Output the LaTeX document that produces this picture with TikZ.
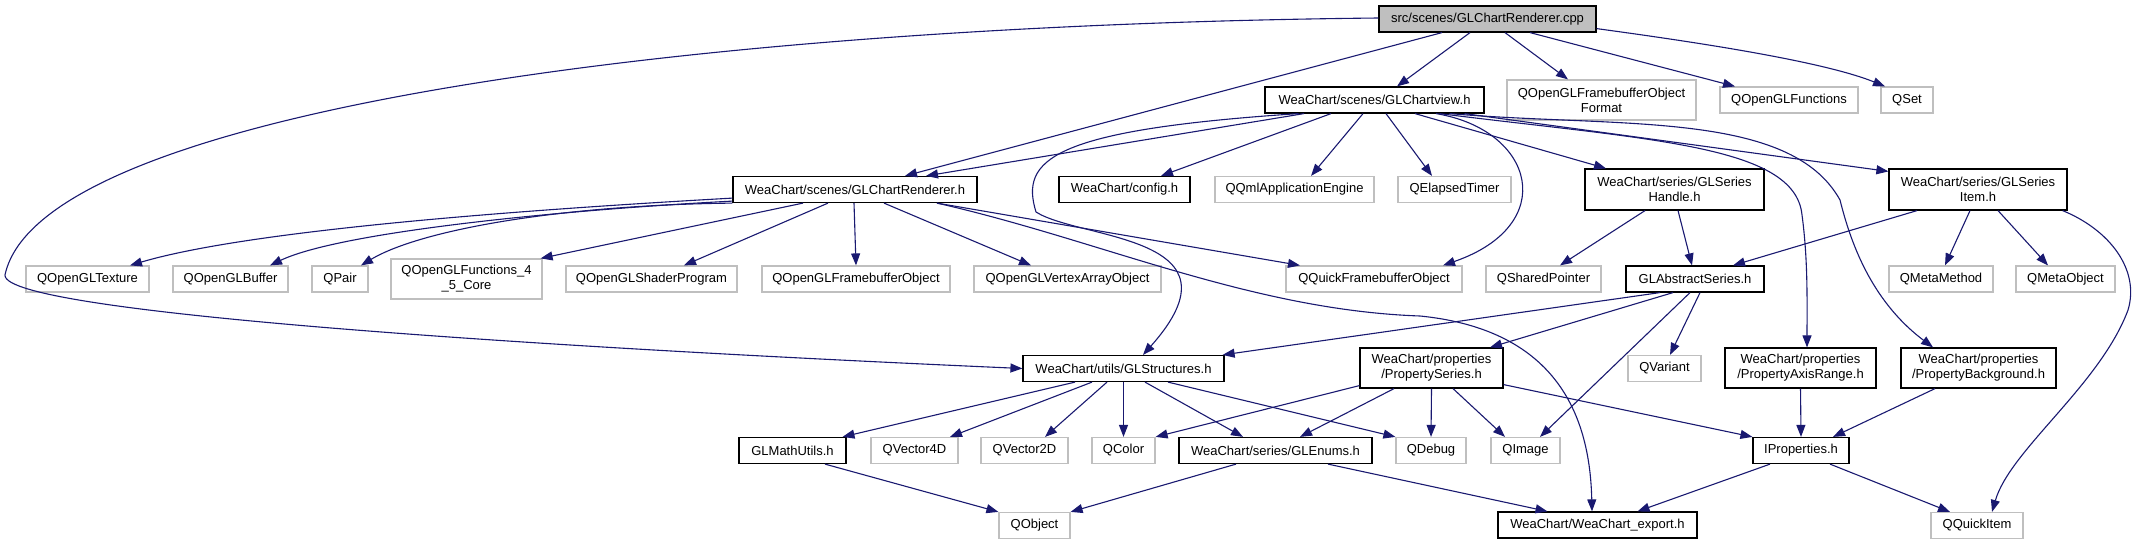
\documentclass[tikz,border=0pt]{standalone}
\usepackage{fontspec}
\setmainfont{Liberation Sans}
\usetikzlibrary{arrows.meta}
\definecolor{edgeblue}{HTML}{191970}
\definecolor{extgray}{HTML}{BFBFBF}

\begin{document}
\begin{tikzpicture}[x=1pt, y=-1pt,
    font=\fontsize{13}{15}\selectfont,
    box/.style={rectangle, inner sep=0pt, minimum height=26pt, align=center, line width=1.2pt},
    docbox/.style={box, draw=black, fill=white},
    extbox/.style={box, draw=extgray, fill=white},
    rootbox/.style={box, draw=black, fill=extgray},
    dep/.style={-{Triangle[length=12pt,width=9pt]}, draw=edgeblue, line width=1.1pt}]
    \useasboundingbox (0,0) rectangle (2140,544);

    % Top rows
    \node[rootbox, minimum width=217pt] (cpp) at (1487.5,19) {src/scenes/GLChartRenderer.cpp};
    \node[docbox, minimum width=219pt] (chartview) at (1374.5,100) {WeaChart/scenes/GLChartview.h};
    \node[extbox, minimum width=189pt, minimum height=40pt] (fboformat) at (1601.5,100) {QOpenGLFramebufferObject\\Format};
    \node[extbox, minimum width=138pt] (glfunc) at (1789,100) {QOpenGLFunctions};
    \node[extbox, minimum width=52pt] (qset) at (1907,100) {QSet};

    \node[docbox, minimum width=244pt] (renderer) at (855,189.5) {WeaChart/scenes/GLChartRenderer.h};
    \node[docbox, minimum width=131pt] (config) at (1124.5,189.5) {WeaChart/config.h};
    \node[extbox, minimum width=159pt] (qmlengine) at (1294.5,189.5) {QQmlApplicationEngine};
    \node[extbox, minimum width=113pt] (elapsed) at (1454.5,189.5) {QElapsedTimer};
    \node[docbox, minimum width=179pt, minimum height=41pt] (handle) at (1674.5,189.5) {WeaChart/series/GLSeries\\Handle.h};
    \node[docbox, minimum width=178pt, minimum height=41pt] (item) at (1978,189.5) {WeaChart/series/GLSeries\\Item.h};

    % Middle row
    \node[extbox, minimum width=123pt] (texture) at (87.5,279) {QOpenGLTexture};
    \node[extbox, minimum width=115pt] (buffer) at (230.5,279) {QOpenGLBuffer};
    \node[extbox, minimum width=56pt] (qpair) at (340,279) {QPair};
    \node[extbox, minimum width=151pt, minimum height=40pt] (func45) at (466.5,279) {QOpenGLFunctions\_4\\\_5\_Core};
    \node[extbox, minimum width=171pt] (shader) at (651.5,279) {QOpenGLShaderProgram};
    \node[extbox, minimum width=188pt] (fbo) at (856,279) {QOpenGLFramebufferObject};
    \node[extbox, minimum width=187pt] (vao) at (1067.5,279) {QOpenGLVertexArrayObject};
    \node[extbox, minimum width=176pt] (quickfbo) at (1374,279) {QQuickFramebufferObject};
    \node[extbox, minimum width=115pt] (sharedptr) at (1543.5,279) {QSharedPointer};
    \node[docbox, minimum width=138pt] (abstract) at (1695,279) {GLAbstractSeries.h};
    \node[extbox, minimum width=104pt] (metamethod) at (1941,279) {QMetaMethod};
    \node[extbox, minimum width=99pt] (metaobject) at (2065.5,279) {QMetaObject};

    \node[docbox, minimum width=201pt] (structs) at (1123.5,368.5) {WeaChart/utils/GLStructures.h};
    \node[docbox, minimum width=143pt, minimum height=40pt] (propseries) at (1431.5,368) {WeaChart/properties\\/PropertySeries.h};
    \node[extbox, minimum width=73pt] (variant) at (1664.5,368.5) {QVariant};
    \node[docbox, minimum width=151pt, minimum height=40pt] (axisrange) at (1800.5,368) {WeaChart/properties\\/PropertyAxisRange.h};
    \node[docbox, minimum width=155pt, minimum height=40pt] (background) at (1978.5,368) {WeaChart/properties\\/PropertyBackground.h};

    % Bottom rows
    \node[docbox, minimum width=107pt] (mathutils) at (792.5,450.5) {GLMathUtils.h};
    \node[extbox, minimum width=87pt] (vec4) at (914.5,450.5) {QVector4D};
    \node[extbox, minimum width=87pt] (vec2) at (1024.5,450.5) {QVector2D};
    \node[extbox, minimum width=63pt] (qcolor) at (1123.5,450.5) {QColor};
    \node[docbox, minimum width=193pt] (enums) at (1275.5,450.5) {WeaChart/series/GLEnums.h};
    \node[extbox, minimum width=70pt] (qdebug) at (1431,450.5) {QDebug};
    \node[extbox, minimum width=69pt] (qimage) at (1525.5,450.5) {QImage};
    \node[docbox, minimum width=96pt] (iprops) at (1801,450.5) {IProperties.h};

    \node[extbox, minimum width=71pt] (qobject) at (1034.5,525.5) {QObject};
    \node[docbox, minimum width=199pt] (export) at (1597.5,525) {WeaChart/WeaChart\_export.h};
    \node[extbox, minimum width=92pt] (quickitem) at (1977,525.5) {QQuickItem};

    % Includes of the source file
    \draw[dep] ([xshift=-45.5pt]cpp.south) -- ([xshift=50pt]renderer.north);
    \draw[dep] ([xshift=-17.5pt]cpp.south) -- ([xshift=22.5pt]chartview.north);
    \draw[dep] ([xshift=17.5pt]cpp.south) -- ([xshift=-33.5pt]fboformat.north);
    \draw[dep] ([xshift=42.5pt]cpp.south) -- ([xshift=-54pt]glfunc.north);
    \draw[dep] ([yshift=4pt]cpp.south east) .. controls (1680,40) and (1820,60) .. ([xshift=-22pt]qset.north);
    \draw[dep] ([yshift=1pt]cpp.west) .. controls (700,25) and (40,110) .. (5,275) .. controls (2,315) and (600,350) .. (structs.west);

    % GLChartview.h
    \draw[dep] ([xshift=-70.5pt]chartview.south) -- ([xshift=71pt]renderer.north);
    \draw[dep] ([xshift=-43.5pt]chartview.south) -- ([xshift=36.5pt]config.north);
    \draw[dep] ([xshift=-11.5pt]chartview.south) -- ([xshift=16.5pt]qmlengine.north);
    \draw[dep] ([xshift=11.5pt]chartview.south) -- ([xshift=-22.5pt]elapsed.north);
    \draw[dep] ([xshift=40.5pt]chartview.south) -- ([xshift=-68.5pt]handle.north);
    \draw[dep] ([xshift=90pt]chartview.south) -- ([yshift=-3pt]item.north west);
    \draw[dep] ([xshift=61.5pt]chartview.south) .. controls (1535,130) and (1560,225) .. ([xshift=69pt]quickfbo.north);
    \draw[dep] ([xshift=-76pt]chartview.south) .. controls (1050,130) and (1020,160) .. (1036,212)
        .. controls (1080,240) and (1250,235) .. ([xshift=19.5pt]structs.north);
    \draw[dep] ([xshift=65pt]chartview.south) .. controls (1650,140) and (1795,145) .. (1802,215)
        .. controls (1808,260) and (1807,300) .. ([xshift=6.5pt]axisrange.north);
    \draw[dep] ([xshift=75pt]chartview.south) .. controls (1620,128) and (1790,110) .. (1840,200)
        .. controls (1850,240) and (1870,300) .. ([xshift=-45.5pt]background.north);

    % GLChartRenderer.h
    \draw[dep] ([yshift=5pt]renderer.south west) .. controls (520,210) and (250,230) .. ([xshift=42.5pt]texture.north);
    \draw[dep] ([yshift=2pt]renderer.south west) .. controls (560,210) and (340,232) .. ([xshift=39.5pt]buffer.north);
    \draw[dep] (renderer.south west) .. controls (560,205) and (420,230) .. ([xshift=21pt]qpair.north);
    \draw[dep] ([xshift=-52pt]renderer.south) -- ([xshift=-2pt]func45.north east);
    \draw[dep] ([xshift=-27pt]renderer.south) -- ([xshift=32.5pt]shader.north);
    \draw[dep] ([xshift=-1pt]renderer.south) -- (fbo.north);
    \draw[dep] ([xshift=29pt]renderer.south) -- ([xshift=-36.5pt]vao.north);
    \draw[dep] ([xshift=82pt]renderer.south) -- ([xshift=-74pt]quickfbo.north);
    \draw[dep] ([xshift=82pt]renderer.south) .. controls (1100,240) and (1250,310) .. (1420,316)
        .. controls (1560,330) and (1590,420) .. ([xshift=-5.5pt]export.north);

    % Series headers
    \draw[dep] ([xshift=-29.5pt]handle.south) -- ([xshift=16.5pt]sharedptr.north);
    \draw[dep] ([xshift=3.5pt]handle.south) -- ([xshift=-3pt]abstract.north);
    \draw[dep] ([xshift=-61pt]item.south) -- ([xshift=38pt]abstract.north);
    \draw[dep] ([xshift=-8pt]item.south) -- ([xshift=4pt]metamethod.north);
    \draw[dep] ([xshift=20pt]item.south) -- ([xshift=-17.5pt]metaobject.north);
    \draw[dep] ([xshift=-5pt]item.south east) .. controls (2110,230) and (2140,270) .. (2128,310)
        .. controls (2100,385) and (2010,450) .. ([xshift=15pt]quickitem.north);

    \draw[dep] ([xshift=-35pt]abstract.south) -- ([xshift=-2pt]structs.north east);
    \draw[dep] ([xshift=-22pt]abstract.south) -- ([xshift=58.5pt]propseries.north);
    \draw[dep] ([xshift=-5pt]abstract.south) -- ([xshift=14.5pt]qimage.north);
    \draw[dep] ([xshift=5pt]abstract.south) -- ([xshift=5.5pt]variant.north);

    % GLStructures.h
    \draw[dep] ([xshift=-48.5pt]structs.south) -- ([xshift=50pt]mathutils.north);
    \draw[dep] ([xshift=-31.5pt]structs.south) -- ([xshift=35.5pt]vec4.north);
    \draw[dep] ([xshift=-16.5pt]structs.south) -- ([xshift=20.5pt]vec2.north);
    \draw[dep] (structs.south) -- (qcolor.north);
    \draw[dep] ([xshift=21.5pt]structs.south) -- ([xshift=-32.5pt]enums.north);
    \draw[dep] ([xshift=44.5pt]structs.south) -- (qdebug.north west);

    % Properties
    \draw[dep] ([yshift=3pt]propseries.south west) -- (qcolor.north east);
    \draw[dep] ([xshift=-37.5pt]propseries.south) -- ([xshift=24.5pt]enums.north);
    \draw[dep] (propseries.south) -- (qdebug.north);
    \draw[dep] ([xshift=21.5pt]propseries.south) -- ([xshift=-20.5pt]qimage.north);
    \draw[dep] ([yshift=4pt]propseries.south east) -- (iprops.north west);
    \draw[dep] (axisrange.south) -- (iprops.north);
    \draw[dep] ([xshift=-43.5pt]background.south) -- ([xshift=32pt]iprops.north);

    % Bottom
    \draw[dep] ([xshift=32.5pt]mathutils.south) -- (qobject.north west);
    \draw[dep] ([xshift=-39.5pt]enums.south) -- (qobject.north east);
    \draw[dep] ([xshift=52.5pt]enums.south) -- ([xshift=-50pt]export.north);
    \draw[dep] ([xshift=-31pt]iprops.south) -- ([xshift=40pt]export.north);
    \draw[dep] ([xshift=29pt]iprops.south) -- ([xshift=-27pt]quickitem.north);

\end{tikzpicture}
\end{document}
